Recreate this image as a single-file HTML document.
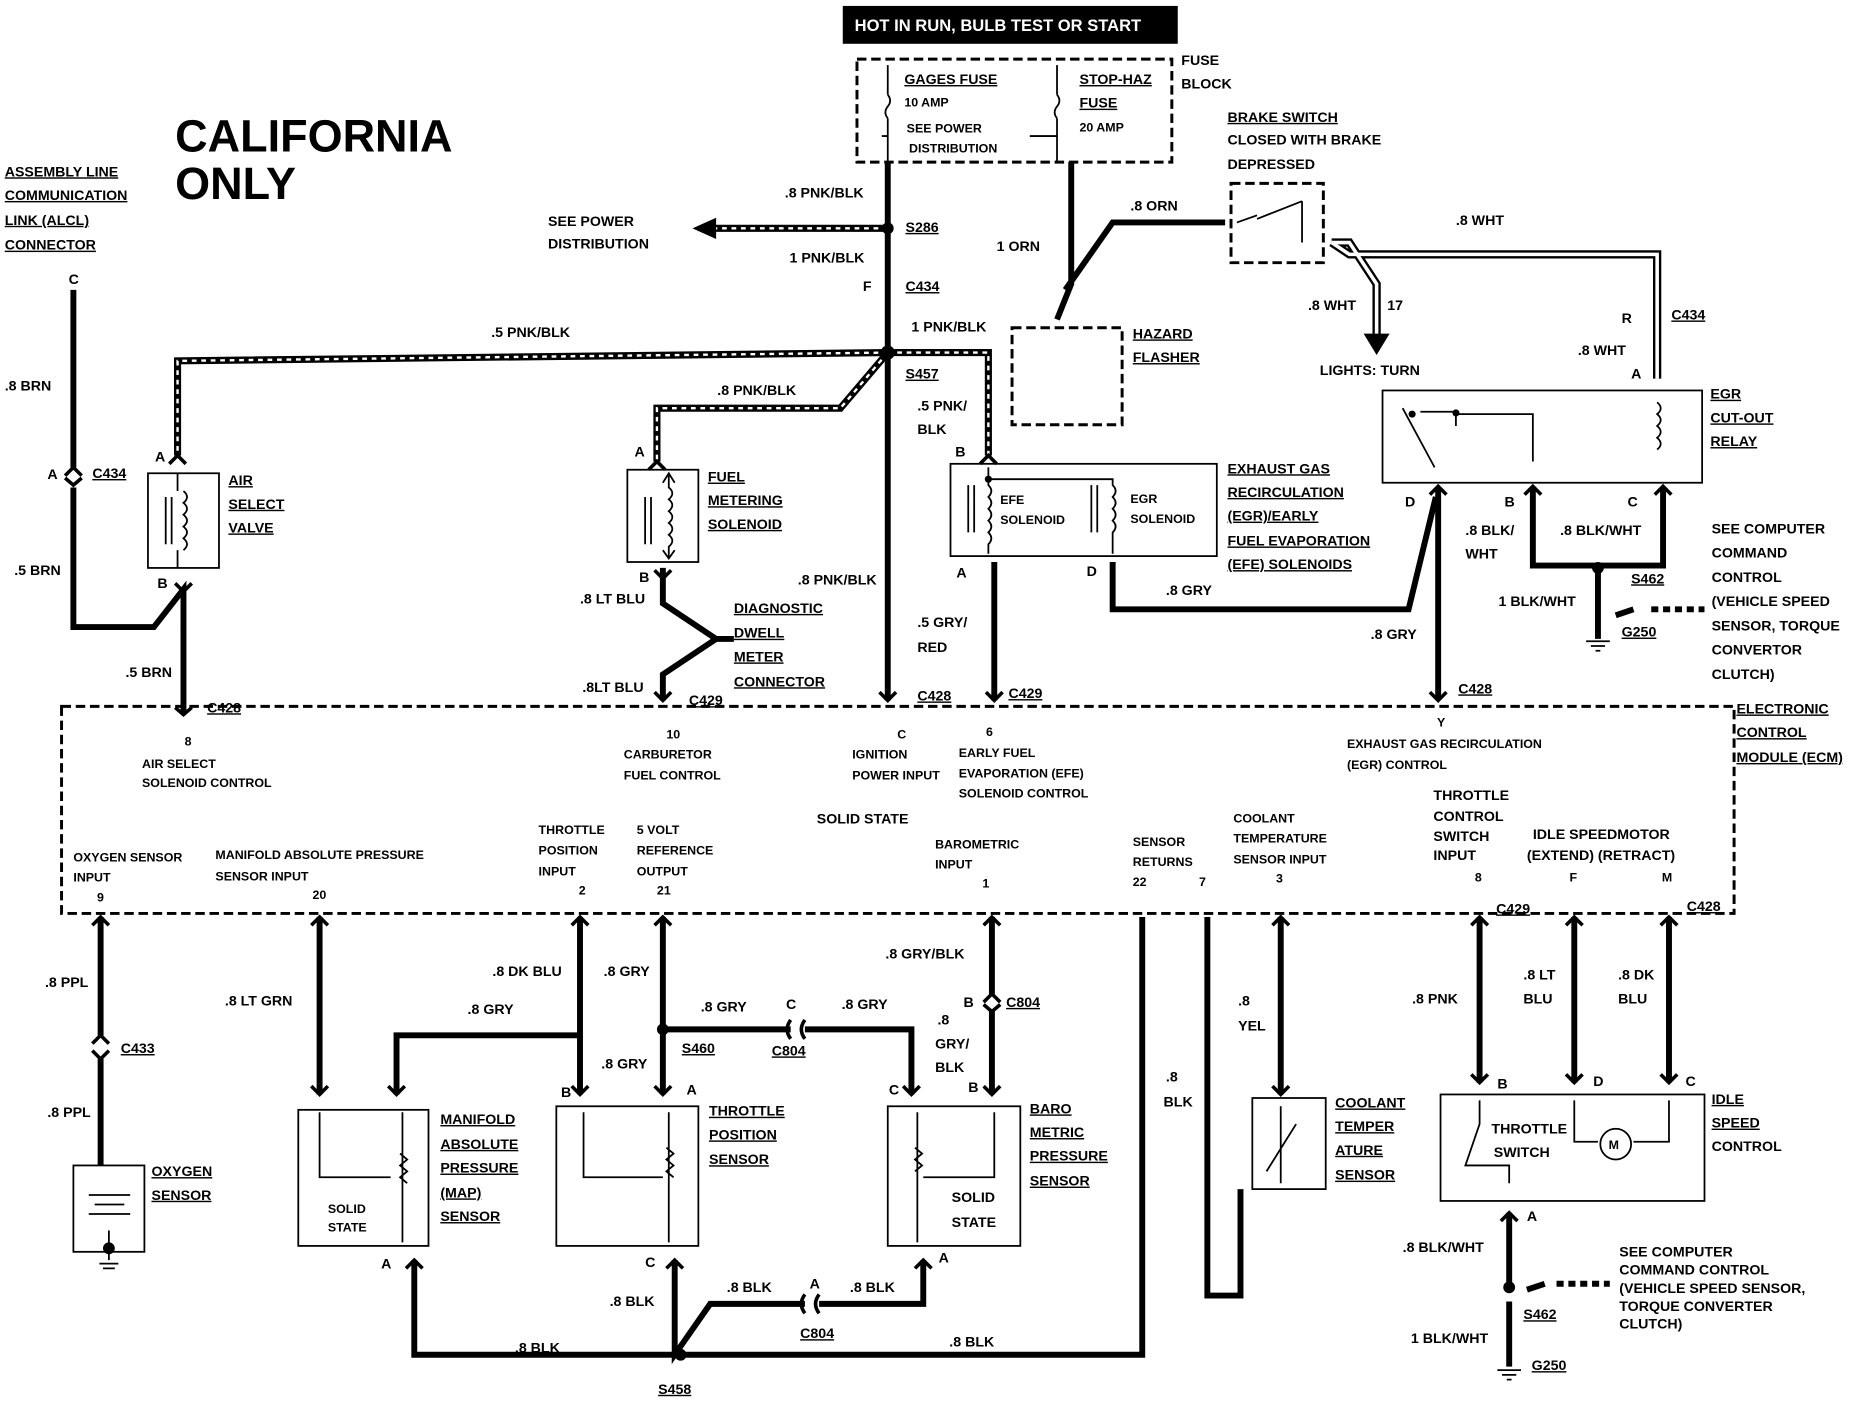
<!DOCTYPE html>
<html><head><meta charset="utf-8"><style>
html,body{margin:0;padding:0;background:#fff;}
svg{display:block;}
text{font-family:"Liberation Sans Narrow","Liberation Sans",sans-serif;font-weight:bold;fill:#000;}
.t{font-size:12px;}
.s{font-size:10.5px;}
.w{stroke:#000;stroke-width:5;fill:none;}
.b{stroke:#000;stroke-width:1.5;fill:none;}
.d{stroke:#000;stroke-width:2.5;fill:none;stroke-dasharray:8 4;}
.dt{stroke:#fff;stroke-width:2;stroke-dasharray:4 4;fill:none;}
.f{stroke:#000;stroke-width:3;fill:none;}
</style></head><body>
<svg width="1856" height="1408" viewBox="0 0 1568 1190" preserveAspectRatio="none" xmlns="http://www.w3.org/2000/svg">
<rect x="712" y="5" width="283" height="32" fill="#000"/>
<text x="722" y="26" style="font-size:14px;fill:#fff">HOT IN RUN,  BULB TEST OR START</text>
<rect x="724" y="50" width="266" height="87" class="d"/>
<text class="t" x="764" y="71" text-decoration="underline">GAGES FUSE</text>
<text class="s" x="764" y="90">10 AMP</text>
<text class="s" x="766" y="112">SEE POWER</text>
<text class="s" x="768" y="129">DISTRIBUTION</text>
<text class="t" x="912" y="71" text-decoration="underline">STOP-HAZ</text>
<text class="t" x="912" y="91" text-decoration="underline">FUSE</text>
<text class="s" x="912" y="111">20 AMP</text>
<text class="t" x="998" y="55">FUSE</text><text class="t" x="998" y="75">BLOCK</text>
<path class="b" d="M750 55 V80 M750 80 q4 5 0 10 q-4 5 0 10 M750 100 V137 M893 55 V80 M893 80 q4 5 0 10 q-4 5 0 10 M893 100 V137"/>
<path class="b" d="M750 115 H745 M893 115 H870"/>
<text style="font-size:38px" x="148" y="128">CALIFORNIA</text>
<text style="font-size:38px" x="148" y="168">ONLY</text>
<g class="t"><text x="4" y="149" text-decoration="underline">ASSEMBLY LINE</text><text x="4" y="169" text-decoration="underline">COMMUNICATION</text><text x="4" y="190" text-decoration="underline">LINK (ALCL)</text><text x="4" y="211" text-decoration="underline">CONNECTOR</text></g>
<path class="w" d="M750 137 V592"/>
<path d="M750 193 H600" stroke="#000" stroke-width="6"/><path d="M750 193 H600" class="dt"/>
<polygon points="585,193 605,184 605,202" fill="#000"/>
<circle cx="750" cy="193" r="5"/>
<text class="t" x="463" y="191">SEE POWER</text><text class="t" x="463" y="210">DISTRIBUTION</text>
<text class="t" x="663" y="167">.8 PNK/BLK</text><text class="t" x="765" y="196" text-decoration="underline">S286</text>
<text class="t" x="667" y="222">1 PNK/BLK</text><text class="t" x="729" y="246">F</text><text class="t" x="765" y="246" text-decoration="underline">C434</text>
<text class="t" x="770" y="280">1 PNK/BLK</text>
<path d="M750 298 L150 305 V385 M750 298 L710 345 H555 V390 M750 298 H835 V385" stroke="#000" stroke-width="6" fill="none"/>
<path d="M750 298 L150 305 V385 M750 298 L710 345 H555 V390 M750 298 H835 V385" class="dt"/>
<circle cx="750" cy="298" r="6"/><text class="t" x="765" y="320" text-decoration="underline">S457</text>
<text class="t" x="415" y="285">.5 PNK/BLK</text>
<text class="t" x="606" y="334">.8 PNK/BLK</text>
<text class="t" x="775" y="347">.5 PNK/</text><text class="t" x="775" y="367">BLK</text>
<!-- forks -->
<path class="f" d="M143 392 L150 385 L157 392 M548 397 L555 390 L562 397 M828 392 L835 385 L842 392 M55 402 L62 395 L69 402 M55 404 L62 410 L69 404 M148 493 L155 500 L162 493 M553 482 L560 489 L567 482 M148 598 L155 604 L162 598 M553 585 L560 592 L567 585 M743 585 L750 592 L757 585 M833 585 L840 592 L847 585 M1208 585 L1215 592 L1222 585 M1208 418 L1215 411 L1222 418 M1288 418 L1295 411 L1302 418 M1398 418 L1405 411 L1412 418"/>
<path class="w" d="M62 245 V395 M62 412 V530 H130 L155 498 V602"/>
<text class="t" x="58" y="240">C</text><text class="t" x="4" y="330">.8 BRN</text><text class="t" x="40" y="405">A</text><text class="t" x="78" y="404" text-decoration="underline">C434</text>
<text class="t" x="12" y="486">.5 BRN</text><text class="t" x="106" y="572">.5 BRN</text><text class="t" x="175" y="602" text-decoration="underline">C428</text>
<rect x="125" y="400" width="60" height="80" class="b"/>
<text class="t" x="131" y="390">A</text><text class="t" x="133" y="497">B</text>
<g class="t"><text x="193" y="410" text-decoration="underline">AIR</text><text x="193" y="430" text-decoration="underline">SELECT</text><text x="193" y="450" text-decoration="underline">VALVE</text></g>
<path class="b" d="M150 400 V415 M150 465 V480 M140 420 V460 M145 420 V460 M155 415 q6 5 0 10 q6 5 0 10 q6 5 0 10 q6 5 0 10 q6 5 0 10"/>
<rect x="530" y="397" width="60" height="78" class="b"/>
<path class="b" d="M565 400 V412 q6 5 0 10 q6 5 0 10 q6 5 0 10 q6 5 0 10 q6 5 0 10 V472 M545 420 V460 M550 420 V460 M560 408 L565 400 L570 408 M560 465 L565 472 L570 465"/>
<path class="w" d="M560 480 V510 L605 540 L560 570 V592 M605 540 H620"/>
<text class="t" x="536" y="386">A</text><text class="t" x="540" y="492">B</text>
<g class="t"><text x="598" y="407" text-decoration="underline">FUEL</text><text x="598" y="427" text-decoration="underline">METERING</text><text x="598" y="447" text-decoration="underline">SOLENOID</text></g>
<text class="t" x="490" y="510">.8 LT BLU</text><text class="t" x="492" y="585">.8LT BLU</text><text class="t" x="582" y="596" text-decoration="underline">C429</text>
<text class="t" x="674" y="494">.8 PNK/BLK</text>
<g class="t"><text x="620" y="518" text-decoration="underline">DIAGNOSTIC</text><text x="620" y="539" text-decoration="underline">DWELL</text><text x="620" y="559" text-decoration="underline">METER</text><text x="620" y="580" text-decoration="underline">CONNECTOR</text></g>
<rect x="803" y="392" width="225" height="78" class="b"/>
<path class="b" d="M835 395 V410 q5 5 0 10 q5 5 0 10 q5 5 0 10 q5 5 0 10 q5 5 0 10 V468 M835 405 H940 V410 q5 5 0 10 q5 5 0 10 q5 5 0 10 q5 5 0 10 V468 M818 410 V450 M823 410 V450 M922 410 V450 M927 410 V450"/>
<circle cx="835" cy="405" r="3"/>
<path class="w" d="M840 475 V592"/>
<text class="t" x="807" y="386">B</text><text class="t" x="808" y="488">A</text>
<text class="s" x="845" y="426">EFE</text><text class="s" x="845" y="443">SOLENOID</text>
<text class="s" x="955" y="425">EGR</text><text class="s" x="955" y="442">SOLENOID</text>
<text class="t" x="775" y="530">.5 GRY/</text><text class="t" x="775" y="551">RED</text>
<text class="t" x="775" y="592" text-decoration="underline">C428</text><text class="t" x="852" y="590" text-decoration="underline">C429</text>
<g class="t"><text x="1037" y="400" text-decoration="underline">EXHAUST GAS</text><text x="1037" y="420" text-decoration="underline">RECIRCULATION</text><text x="1037" y="440" text-decoration="underline">(EGR)/EARLY</text><text x="1037" y="461" text-decoration="underline">FUEL EVAPORATION</text><text x="1037" y="481" text-decoration="underline">(EFE) SOLENOIDS</text></g>
<path class="w" d="M940 475 V515 H1190 L1213 420"/>
<text class="t" x="918" y="487">D</text><text class="t" x="985" y="503">.8 GRY</text>
<path class="w" d="M905 137 V240 L893 270 M900 245 L940 188 H1035"/>
<rect x="855" y="277" width="93" height="82" class="d"/>
<text class="t" x="842" y="212">1 ORN</text><text class="t" x="955" y="178">.8 ORN</text>
<text class="t" x="957" y="286" text-decoration="underline">HAZARD</text><text class="t" x="957" y="306" text-decoration="underline">FLASHER</text>
<rect x="1040" y="155" width="78" height="67" class="d"/>
<g class="t"><text x="1037" y="103" text-decoration="underline">BRAKE SWITCH</text><text x="1037" y="122">CLOSED WITH BRAKE</text><text x="1037" y="143">DEPRESSED</text></g>
<path class="b" d="M1045 188 L1062 182 M1062 185 L1100 170 M1100 170 V205"/>
<path d="M1125 205 L1140 205 L1163 240 V285 M1125 205 L1140 215 H1400 V320" stroke="#000" stroke-width="7" fill="none"/>
<path d="M1125 205 L1140 205 L1163 240 V285 M1125 205 L1140 215 H1400 V320" stroke="#fff" stroke-width="3" fill="none"/>
<polygon points="1152,282 1174,282 1163,300" fill="#000"/>
<text class="t" x="1230" y="190">.8 WHT</text><text class="t" x="1105" y="262">.8 WHT</text><text class="t" x="1172" y="262">17</text>
<text class="t" x="1115" y="317">LIGHTS: TURN</text>
<text class="t" x="1370" y="273">R</text><text class="t" x="1412" y="270" text-decoration="underline">C434</text>
<text class="t" x="1333" y="300">.8 WHT</text><text class="t" x="1378" y="320">A</text>
<rect x="1168" y="330" width="270" height="78" class="b"/>
<path class="b" d="M1185 345 L1212 395 M1200 348 H1230 V350 H1295 V390 M1230 350 V360"/>
<circle cx="1230" cy="349" r="3"/><circle cx="1193" cy="350" r="3"/>
<path class="b" d="M1400 340 q6 5 0 10 q6 5 0 10 q6 5 0 10 q6 5 0 10"/>
<g class="t"><text x="1445" y="337" text-decoration="underline">EGR</text><text x="1445" y="357" text-decoration="underline">CUT-OUT</text><text x="1445" y="377" text-decoration="underline">RELAY</text></g>
<path class="w" d="M1215 412 V590 M1295 412 V478 H1350 M1405 412 V478 H1350 M1350 480 V540"/>
<circle cx="1350" cy="480" r="5"/>
<path d="M1365 520 L1380 515" stroke="#000" stroke-width="5"/><path d="M1395 515 L1440 515" stroke="#000" stroke-width="5" stroke-dasharray="6 4"/>
<path class="b" d="M1340 542 H1360 M1344 546 H1356 M1348 550 H1352"/>
<text class="t" x="1187" y="428">D</text><text class="t" x="1271" y="428">B</text><text class="t" x="1375" y="428">C</text>
<text class="t" x="1238" y="452">.8 BLK/</text><text class="t" x="1238" y="472">WHT</text><text class="t" x="1318" y="452">.8 BLK/WHT</text>
<text class="t" x="1378" y="493" text-decoration="underline">S462</text><text class="t" x="1266" y="512">1 BLK/WHT</text><text class="t" x="1370" y="538" text-decoration="underline">G250</text>
<text class="t" x="1158" y="540">.8 GRY</text><text class="t" x="1232" y="586" text-decoration="underline">C428</text>
<g class="t"><text x="1446" y="451">SEE COMPUTER</text><text x="1446" y="471">COMMAND</text><text x="1446" y="492">CONTROL</text><text x="1446" y="512">(VEHICLE SPEED</text><text x="1446" y="533">SENSOR, TORQUE</text><text x="1446" y="553">CONVERTOR</text><text x="1446" y="574">CLUTCH)</text></g>
<rect x="52" y="597" width="1413" height="175" class="d"/>
<g class="t"><text x="1467" y="603" text-decoration="underline">ELECTRONIC</text><text x="1467" y="623" text-decoration="underline">CONTROL</text><text x="1467" y="644" text-decoration="underline">MODULE (ECM)</text></g>
<g class="s">
<text x="156" y="630">8</text><text x="120" y="649">AIR SELECT</text><text x="120" y="665">SOLENOID CONTROL</text>
<text x="563" y="624">10</text><text x="527" y="641">CARBURETOR</text><text x="527" y="659">FUEL CONTROL</text>
<text x="758" y="624">C</text><text x="720" y="641">IGNITION</text><text x="720" y="659">POWER INPUT</text>
<text x="833" y="622">6</text><text x="810" y="640">EARLY FUEL</text><text x="810" y="657">EVAPORATION (EFE)</text><text x="810" y="674">SOLENOID CONTROL</text>
<text x="1214" y="614">Y</text><text x="1138" y="632">EXHAUST GAS RECIRCULATION</text><text x="1138" y="650">(EGR) CONTROL</text>
<text x="690" y="696" style="font-size:12px">SOLID STATE</text>
<text x="62" y="728">OXYGEN SENSOR</text><text x="62" y="745">INPUT</text><text x="82" y="762">9</text>
<text x="182" y="726">MANIFOLD ABSOLUTE PRESSURE</text><text x="182" y="744">SENSOR INPUT</text><text x="264" y="760">20</text>
<text x="455" y="705">THROTTLE</text><text x="455" y="722">POSITION</text><text x="455" y="740">INPUT</text><text x="489" y="756">2</text>
<text x="538" y="705">5 VOLT</text><text x="538" y="722">REFERENCE</text><text x="538" y="740">OUTPUT</text><text x="555" y="756">21</text>
<text x="790" y="717">BAROMETRIC</text><text x="790" y="734">INPUT</text><text x="830" y="750">1</text>
<text x="957" y="715">SENSOR</text><text x="957" y="732">RETURNS</text><text x="957" y="749">22</text><text x="1013" y="749">7</text>
<text x="1042" y="695">COOLANT</text><text x="1042" y="712">TEMPERATURE</text><text x="1042" y="730">SENSOR INPUT</text><text x="1078" y="746">3</text>
<text x="1211" y="676" style="font-size:12px">THROTTLE</text><text x="1211" y="694" style="font-size:12px">CONTROL</text><text x="1211" y="711" style="font-size:12px">SWITCH</text><text x="1211" y="727" style="font-size:12px">INPUT</text><text x="1246" y="745">8</text>
<text x="1295" y="709" style="font-size:12px">IDLE SPEEDMOTOR</text><text x="1290" y="727" style="font-size:12px">(EXTEND) (RETRACT)</text><text x="1326" y="745">F</text><text x="1404" y="745">M</text>
</g>
<path class="f" d="M78 782 L85 775 L92 782 M263 782 L270 775 L277 782 M483 782 L490 775 L497 782 M553 782 L560 775 L567 782 M831 782 L838 775 L845 782 M1075 782 L1082 775 L1089 782 M1243 782 L1250 775 L1257 782 M1323 782 L1330 775 L1337 782 M1403 782 L1410 775 L1417 782 M263 918 L270 925 L277 918 M328 918 L335 925 L342 918 M483 918 L490 925 L497 918 M553 918 L560 925 L567 918 M763 918 L770 925 L777 918 M831 918 L838 925 L845 918 M1075 918 L1082 925 L1089 918 M1243 908 L1250 915 L1257 908 M1323 908 L1330 915 L1337 908 M1403 908 L1410 915 L1417 908 M343 1072 L350 1065 L357 1072 M563 1072 L570 1065 L577 1072 M773 1072 L780 1065 L787 1072 M1268 1032 L1275 1025 L1282 1032 M78 882 L85 875 L92 882 M78 888 L85 895 L92 888 M831 847 L838 840 L845 847 M831 849 L838 855 L845 849"/>
<path class="w" d="M85 775 V875 M85 895 V985 M270 775 V925 M335 925 V875 H490 M490 775 V925 M560 775 V925 M560 870 H668 M680 870 H770 V925 M838 775 V840 M838 855 V925 M965 775 V1145 H575 M350 1065 V1145 H575 M570 1065 V1145 L600 1102 H680 M692 1102 H780 V1065 M1020 775 V1095 H1048 V1005 M1082 775 V925 M1250 775 V915 M1330 775 V915 M1410 775 V915 M1275 1025 V1085 M1275 1100 V1155"/>
<path class="f" d="M668 862 q-6 8 0 16 M680 862 q-6 8 0 16 M680 1094 q-6 8 0 16 M692 1094 q-6 8 0 16"/>
<circle cx="560" cy="870" r="5"/><circle cx="575" cy="1145" r="5"/><circle cx="1275" cy="1088" r="5"/>
<path d="M1290 1090 L1305 1085" stroke="#000" stroke-width="5"/><path d="M1315 1085 L1360 1085" stroke="#000" stroke-width="5" stroke-dasharray="6 4"/>
<path class="b" d="M1265 1158 H1285 M1269 1162 H1281 M1273 1166 H1277"/>
<g class="t">
<text x="38" y="834">.8 PPL</text><text x="102" y="890" text-decoration="underline">C433</text><text x="40" y="944">.8 PPL</text>
<text x="190" y="850">.8 LT GRN</text><text x="395" y="857">.8 GRY</text><text x="416" y="825">.8 DK BLU</text><text x="510" y="825">.8 GRY</text>
<text x="592" y="855">.8 GRY</text><text x="664" y="853">C</text><text x="711" y="853">.8 GRY</text><text x="652" y="892" text-decoration="underline">C804</text>
<text x="576" y="890" text-decoration="underline">S460</text><text x="508" y="903">.8 GRY</text>
<text x="748" y="810">.8 GRY/BLK</text><text x="814" y="851">B</text><text x="850" y="851" text-decoration="underline">C804</text>
<text x="792" y="866">.8</text><text x="790" y="886">GRY/</text><text x="790" y="906">BLK</text>
<text x="985" y="914">.8</text><text x="983" y="935">BLK</text><text x="1046" y="850">.8</text><text x="1046" y="871">YEL</text>
<text x="1264" y="772" text-decoration="underline">C429</text><text x="1425" y="770" text-decoration="underline">C428</text>
<text x="1193" y="848">.8 PNK</text><text x="1287" y="828">.8 LT</text><text x="1287" y="848">BLU</text><text x="1367" y="828">.8 DK</text><text x="1367" y="848">BLU</text>
<text x="515" y="1104">.8 BLK</text><text x="614" y="1092">.8 BLK</text><text x="684" y="1089">A</text><text x="718" y="1092">.8 BLK</text><text x="676" y="1131" text-decoration="underline">C804</text>
<text x="435" y="1143">.8 BLK</text><text x="802" y="1138">.8 BLK</text><text x="556" y="1178" text-decoration="underline">S458</text>
<text x="1185" y="1058">.8 BLK/WHT</text><text x="1287" y="1115" text-decoration="underline">S462</text><text x="1192" y="1135">1 BLK/WHT</text><text x="1294" y="1158" text-decoration="underline">G250</text>
<text x="1368" y="1062">SEE COMPUTER</text><text x="1368" y="1077">COMMAND CONTROL</text><text x="1368" y="1093">(VEHICLE SPEED SENSOR,</text><text x="1368" y="1108">TORQUE CONVERTER</text><text x="1368" y="1123">CLUTCH)</text>
</g>
<rect x="62" y="985" width="60" height="73" class="b"/>
<path class="b" d="M75 1010 H110 M80 1018 H105 M75 1026 H110 M92 1040 V1065 M84 1068 H100 M87 1072 H97"/><circle cx="92" cy="1055" r="5"/>
<text class="t" x="128" y="994" text-decoration="underline">OXYGEN</text><text class="t" x="128" y="1014" text-decoration="underline">SENSOR</text>
<rect x="252" y="938" width="110" height="115" class="b"/>
<path class="b" d="M270 940 V995 H330 M340 940 V1050 M338 975 l6 5 l-6 5 l6 5 l-6 5 l6 5"/>
<text class="s" x="277" y="1025">SOLID</text><text class="s" x="277" y="1041">STATE</text>
<g class="t"><text x="372" y="950" text-decoration="underline">MANIFOLD</text><text x="372" y="971" text-decoration="underline">ABSOLUTE</text><text x="372" y="991" text-decoration="underline">PRESSURE</text><text x="372" y="1012" text-decoration="underline">(MAP)</text><text x="372" y="1032" text-decoration="underline">SENSOR</text></g>
<text class="t" x="322" y="1072">A</text>
<rect x="470" y="935" width="120" height="118" class="b"/>
<path class="b" d="M493 940 V995 H560 M565 940 V1050 M563 970 l6 5 l-6 5 l6 5 l-6 5 l6 5"/>
<text class="t" x="474" y="927">B</text><text class="t" x="580" y="925">A</text><text class="t" x="545" y="1071">C</text>
<g class="t"><text x="599" y="943" text-decoration="underline">THROTTLE</text><text x="599" y="963" text-decoration="underline">POSITION</text><text x="599" y="984" text-decoration="underline">SENSOR</text></g>
<rect x="750" y="935" width="112" height="118" class="b"/>
<path class="b" d="M775 940 V1050 M840 940 V995 H780 M773 970 l6 5 l-6 5 l6 5 l-6 5"/>
<text class="t" x="804" y="1016">SOLID</text><text class="t" x="804" y="1037">STATE</text>
<text class="t" x="751" y="925">C</text><text class="t" x="818" y="923">B</text><text class="t" x="793" y="1067">A</text>
<g class="t"><text x="870" y="941" text-decoration="underline">BARO</text><text x="870" y="961" text-decoration="underline">METRIC</text><text x="870" y="981" text-decoration="underline">PRESSURE</text><text x="870" y="1002" text-decoration="underline">SENSOR</text></g>
<rect x="1058" y="928" width="62" height="77" class="b"/>
<path class="b" d="M1082 935 V1000 M1070 990 L1095 950"/>
<g class="t"><text x="1128" y="936" text-decoration="underline">COOLANT</text><text x="1128" y="956" text-decoration="underline">TEMPER</text><text x="1128" y="976" text-decoration="underline">ATURE</text><text x="1128" y="997" text-decoration="underline">SENSOR</text></g>
<rect x="1217" y="925" width="223" height="90" class="b"/>
<path class="b" d="M1250 930 V950 L1238 985 H1275 V1000 M1330 930 V965 H1350 M1410 930 V965 H1380"/>
<circle cx="1365" cy="967" r="13" class="b"/><text class="s" x="1359" y="971">M</text>
<text class="t" x="1260" y="958">THROTTLE</text><text class="t" x="1262" y="978">SWITCH</text>
<text class="t" x="1265" y="920">B</text><text class="t" x="1346" y="918">D</text><text class="t" x="1424" y="918">C</text><text class="t" x="1290" y="1032">A</text>
<g class="t"><text x="1446" y="933" text-decoration="underline">IDLE</text><text x="1446" y="953" text-decoration="underline">SPEED</text><text x="1446" y="973">CONTROL</text></g>
</svg>
</body></html>
